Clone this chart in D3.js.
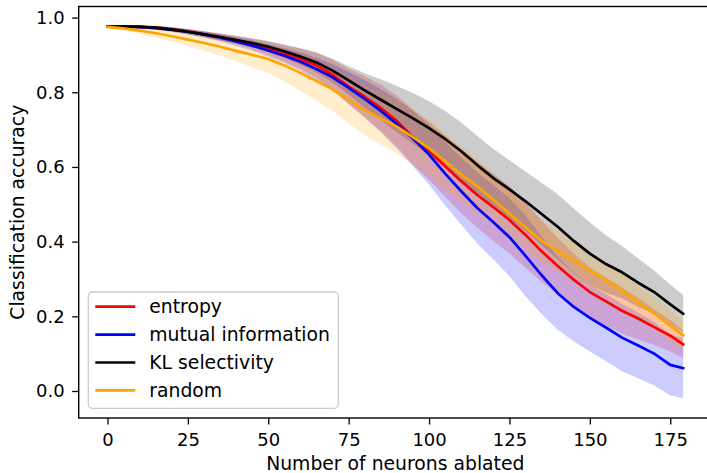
<!DOCTYPE html>
<html>
<head>
<meta charset="utf-8">
<script src="https://cdn.jsdelivr.net/npm/d3@7"></script>
<style>
  html, body { margin: 0; padding: 0; background: #fff; }
  svg { display: block; font-family: "DejaVu Sans", sans-serif; }
</style>
</head>
<body>
<svg id="chart" width="707" height="473"></svg>
<script>
// Number of neurons ablated at each sample
const neurons = [0,5,10,15,20,25,30,35,40,45,50,55,60,65,70,75,80,85,90,95,100,105,110,115,120,125,130,135,140,145,150,155,160,165,170,175,179];

// Mean classification accuracy per ablation ordering
const entropyMean = [0.976,0.976,0.975,0.973,0.969,0.963,0.956,0.948,0.940,0.930,0.918,0.904,0.890,0.872,0.847,0.815,0.788,0.758,0.723,0.680,0.643,0.602,0.562,0.525,0.492,0.458,0.418,0.374,0.335,0.298,0.265,0.240,0.215,0.194,0.171,0.148,0.125];
const miMean      = [0.976,0.976,0.975,0.972,0.968,0.962,0.955,0.946,0.936,0.925,0.912,0.898,0.882,0.862,0.840,0.812,0.782,0.750,0.715,0.676,0.633,0.582,0.535,0.490,0.452,0.412,0.362,0.310,0.262,0.225,0.196,0.170,0.143,0.122,0.100,0.070,0.061];
const klMean      = [0.976,0.976,0.975,0.973,0.968,0.962,0.955,0.948,0.940,0.932,0.922,0.910,0.896,0.880,0.858,0.832,0.805,0.780,0.755,0.730,0.704,0.675,0.642,0.605,0.570,0.540,0.508,0.474,0.440,0.402,0.368,0.340,0.318,0.290,0.265,0.232,0.207];
const randomMean  = [0.975,0.971,0.965,0.958,0.950,0.941,0.932,0.922,0.911,0.900,0.889,0.872,0.852,0.830,0.808,0.780,0.752,0.730,0.708,0.680,0.650,0.615,0.580,0.548,0.512,0.475,0.438,0.402,0.375,0.350,0.323,0.296,0.268,0.238,0.208,0.175,0.149];

// Standard deviation across runs
const entropyStd = [0.002,0.003,0.004,0.005,0.006,0.007,0.008,0.010,0.012,0.015,0.018,0.022,0.027,0.033,0.040,0.048,0.055,0.062,0.068,0.074,0.078,0.082,0.086,0.088,0.090,0.090,0.088,0.082,0.075,0.070,0.066,0.064,0.062,0.056,0.048,0.042,0.037];
const miStd      = [0.002,0.003,0.004,0.005,0.006,0.007,0.008,0.010,0.012,0.014,0.017,0.020,0.025,0.030,0.036,0.042,0.050,0.058,0.066,0.074,0.080,0.085,0.090,0.095,0.100,0.105,0.108,0.104,0.098,0.092,0.090,0.090,0.090,0.088,0.085,0.082,0.080];
const klStd      = [0.002,0.003,0.004,0.005,0.006,0.007,0.008,0.009,0.010,0.012,0.015,0.018,0.022,0.027,0.032,0.038,0.046,0.055,0.062,0.068,0.072,0.075,0.077,0.078,0.078,0.078,0.080,0.084,0.087,0.087,0.083,0.077,0.070,0.065,0.058,0.053,0.050];
const randomStd  = [0.002,0.005,0.008,0.011,0.014,0.017,0.020,0.024,0.028,0.033,0.038,0.043,0.048,0.053,0.058,0.063,0.067,0.070,0.072,0.074,0.075,0.075,0.074,0.072,0.068,0.064,0.060,0.056,0.052,0.050,0.048,0.046,0.045,0.044,0.043,0.042,0.040];

const seriesNames  = ["entropy", "mutual information", "KL selectivity", "random"];
const seriesColors = ["#ff0000", "#0000ff", "#000000", "#ffa500"];
const seriesMeans  = [entropyMean, miMean, klMean, randomMean];
const seriesStds   = [entropyStd, miStd, klStd, randomStd];

const xTicks = [0, 25, 50, 75, 100, 125, 150, 175];
const yTicks = [0.0, 0.2, 0.4, 0.6, 0.8, 1.0];
const xLabel = "Number of neurons ablated";
const yLabel = "Classification accuracy";

// ---- layout ----
const svg = d3.select("#chart");
const plot = { left: 78.7, right: 711.9, top: 6.5, bottom: 418 };
const lineWidth = 2.7;

// x limits padded by 5% of the data range on each side
const xMin = d3.min(neurons), xMax = d3.max(neurons);
const xPad = (xMax - xMin) * 0.05;

const x = d3.scaleLinear().domain([xMin - xPad, xMax + xPad]).range([plot.left, plot.right]);
const y = d3.scaleLinear().domain([-0.0723, 1.0297]).range([plot.bottom, plot.top]);

const rows = (i) => neurons.map((n, j) => ({ n, m: seriesMeans[i][j], s: seriesStds[i][j] }));

// shaded bands (mean ± std)
const area = d3.area()
  .x(d => x(d.n))
  .y0(d => y(d.m - d.s))
  .y1(d => y(d.m + d.s));

const gBands = svg.append("g");
seriesNames.forEach((name, i) => {
  gBands.append("path")
    .datum(rows(i))
    .attr("d", area)
    .attr("fill", seriesColors[i])
    .attr("fill-opacity", 0.2)
    .attr("stroke", "none");
});

// mean lines
const line = d3.line().x(d => x(d.n)).y(d => y(d.m));
const gLines = svg.append("g");
seriesNames.forEach((name, i) => {
  gLines.append("path")
    .datum(rows(i))
    .attr("d", line)
    .attr("fill", "none")
    .attr("stroke", seriesColors[i])
    .attr("stroke-width", lineWidth)
    .attr("stroke-linejoin", "round")
    .attr("stroke-linecap", "square");
});

// axes
const xAxis = d3.axisBottom(x).tickValues(xTicks).tickSize(6.5).tickPadding(5).tickFormat(d3.format("d"));
const yAxis = d3.axisLeft(y).tickValues(yTicks).tickSize(6.5).tickPadding(7.5).tickFormat(d3.format(".1f"));

const gx = svg.append("g").attr("transform", `translate(0,${plot.bottom})`).call(xAxis);
const gy = svg.append("g").attr("transform", `translate(${plot.left},0)`).call(yAxis);
[gx, gy].forEach(g => {
  g.select(".domain").remove();
  g.selectAll(".tick line").attr("stroke", "#000").attr("stroke-width", 1.3);
  g.selectAll(".tick text").attr("fill", "#000").style("font-size", "18px").style("font-family", "DejaVu Sans");
});
gx.selectAll(".tick text").attr("dy", "0.9em");

// spines
svg.append("rect")
  .attr("x", plot.left).attr("y", plot.top)
  .attr("width", plot.right - plot.left).attr("height", plot.bottom - plot.top)
  .attr("fill", "none").attr("stroke", "#000").attr("stroke-width", 1.4);

// axis titles
svg.append("text")
  .attr("x", (plot.left + plot.right) / 2)
  .attr("y", 469.5)
  .attr("text-anchor", "middle")
  .style("font-size", "18.8px")
  .text(xLabel);

svg.append("text")
  .attr("transform", `translate(24,${(plot.top + plot.bottom) / 2}) rotate(-90)`)
  .attr("text-anchor", "middle")
  .style("font-size", "18.8px")
  .text(yLabel);

// legend
const legend = svg.append("g").attr("transform", "translate(88.3,292)");
legend.append("rect")
  .attr("width", 250).attr("height", 116.3)
  .attr("rx", 4).attr("ry", 4)
  .attr("fill", "#fff").attr("fill-opacity", 0.8)
  .attr("stroke", "#cccccc").attr("stroke-width", 1.3);

seriesNames.forEach((name, i) => {
  const row = legend.append("g").attr("transform", `translate(0,${14.7 + i * 27.9})`);
  row.append("line")
    .attr("x1", 7).attr("x2", 47)
    .attr("stroke", seriesColors[i]).attr("stroke-width", lineWidth);
  row.append("text")
    .attr("x", 61).attr("dy", "0.36em")
    .style("font-size", "18.8px")
    .text(name);
});
</script>
</body>
</html>
